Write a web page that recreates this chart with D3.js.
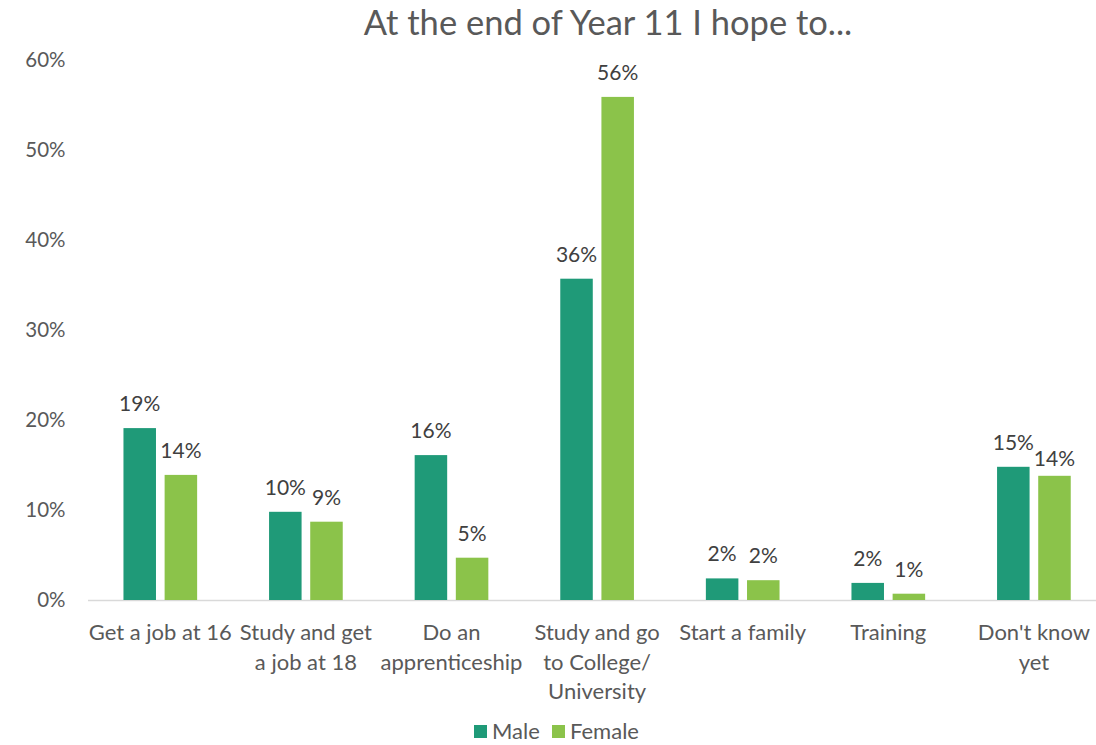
<!DOCTYPE html>
<html>
<head>
<meta charset="utf-8">
<script src="https://cdn.jsdelivr.net/npm/d3@7"></script>
<style>
  html, body { margin: 0; padding: 0; background: #fff; }
  svg { display: block; font-family: Lato, "Open Sans", sans-serif; }
</style>
</head>
<body>
<svg id="chart" width="1096" height="745"></svg>
<script>
// Survey answers: "At the end of Year 11 I hope to..."
const categories = [
  "Get a job at 16",
  "Study and get a job at 18",
  "Do an apprenticeship",
  "Study and go to College/ University",
  "Start a family",
  "Training",
  "Don't know yet"
];
// Category label line breaks
const categoryLines = [
  ["Get a job at 16"],
  ["Study and get", "a job at 18"],
  ["Do an", "apprenticeship"],
  ["Study and go", "to College/", "University"],
  ["Start a family"],
  ["Training"],
  ["Don't know", "yet"]
];
const seriesNames = ["Male", "Female"];
const maleValues   = [0.191, 0.098, 0.161, 0.357, 0.024, 0.019, 0.148];
const femaleValues = [0.139, 0.087, 0.047, 0.559, 0.022, 0.007, 0.138];
const yTicks = [0, 0.1, 0.2, 0.3, 0.4, 0.5, 0.6];
const colors = { Male: "#1f9a78", Female: "#8bc34a" };

const svg = d3.select("#chart");
const plotLeft = 87.5, step = 145.6, plotTop = 60, plotBottom = 600;

const x = d3.scaleBand()
  .domain(categories)
  .range([plotLeft, plotLeft + step * categories.length])
  .padding(0);

const xs = d3.scaleBand()
  .domain(seriesNames)
  .range([step * 0.247, step * (1 - 0.247)])
  .paddingInner(0.21);

const y = d3.scaleLinear().domain([0, 0.6]).range([plotBottom, plotTop]);
const pct = d3.format(".0%");

// Title
svg.append("text")
  .attr("x", 608).attr("y", 35)
  .attr("text-anchor", "middle")
  .attr("fill", "#595959")
  .style("font-size", "34.5px")
  .text("At the end of Year 11 I hope to...");

// Y axis (labels only)
const yAxis = svg.append("g")
  .attr("transform", `translate(${plotLeft},0)`)
  .call(d3.axisLeft(y).tickValues(yTicks).tickFormat(pct).tickSize(0).tickPadding(22));
yAxis.select(".domain").remove();
yAxis.selectAll("text")
  .attr("fill", "#595959")
  .style("font-size", "20.5px")
  .style("font-family", "Lato, 'Open Sans', sans-serif");

// X axis
const xAxis = svg.append("g")
  .attr("transform", `translate(0,${plotBottom})`)
  .call(d3.axisBottom(x).tickSize(0).tickFormat(""));
xAxis.select(".domain").attr("stroke", "#d9d9d9").attr("stroke-width", 1.5);

// Category labels, wrapped
const catLabels = svg.append("g").selectAll("text")
  .data(categories)
  .join("text")
  .attr("text-anchor", "middle")
  .attr("fill", "#595959")
  .style("font-size", "22px")
  .attr("transform", d => `translate(${x(d) + x.bandwidth() / 2},${plotBottom + 40})`);
catLabels.each(function (d, i) {
  const t = d3.select(this);
  categoryLines[i].forEach((line, k) => {
    t.append("tspan").attr("x", 0).attr("y", k * 29.5).text(line);
  });
});

// Bars
const rows = categories.map((c, i) => ({ category: c, Male: maleValues[i], Female: femaleValues[i] }));
const groups = svg.append("g").selectAll("g")
  .data(rows)
  .join("g")
  .attr("transform", d => `translate(${x(d.category)},0)`);

groups.selectAll("rect")
  .data(d => seriesNames.map(s => ({ series: s, value: d[s], category: d.category })))
  .join("rect")
  .attr("x", d => xs(d.series))
  .attr("width", xs.bandwidth())
  .attr("y", d => y(d.value))
  .attr("height", d => y(0) - y(d.value))
  .attr("fill", d => colors[d.series]);

// Value labels; the last Female label sits closer to its bar to clear its neighbour
const labelGap = (d) => (d.category === "Don't know yet" && d.series === "Female") ? 10 : 17;
groups.selectAll("text")
  .data(d => seriesNames.map(s => ({ series: s, value: d[s], category: d.category })))
  .join("text")
  .attr("x", d => xs(d.series) + xs.bandwidth() / 2)
  .attr("y", d => y(d.value) - labelGap(d))
  .attr("text-anchor", "middle")
  .attr("fill", "#404040")
  .style("font-size", "21px")
  .text(d => pct(d.value));

// Legend
const legend = svg.append("g").attr("transform", "translate(474,725)");
const legendItems = legend.selectAll("g")
  .data(seriesNames)
  .join("g")
  .attr("transform", (d, i) => `translate(${i * 78},0)`);
legendItems.append("rect")
  .attr("width", 13).attr("height", 13)
  .attr("fill", d => colors[d]);
legendItems.append("text")
  .attr("x", 18).attr("y", 14)
  .attr("fill", "#595959")
  .style("font-size", "22px")
  .text(d => d);
</script>
</body>
</html>
